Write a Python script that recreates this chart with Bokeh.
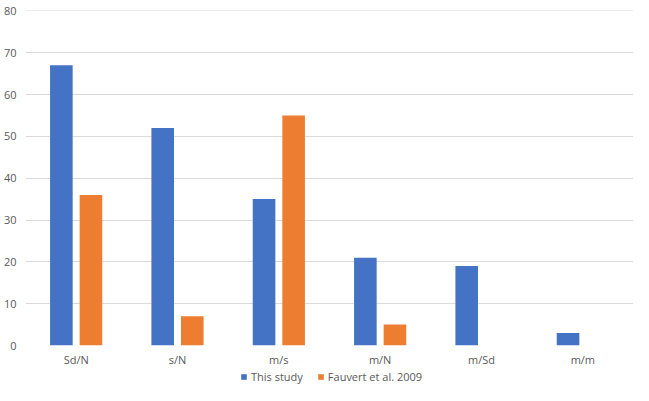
from bokeh.plotting import figure
from bokeh.models import FactorRange, Range1d, SingleIntervalTicker, Legend, LegendItem
from bokeh.layouts import column
from bokeh.transform import dodge
from bokeh.embed import file_html
from bokeh.resources import INLINE

categories = ["Sd/N", "s/N", "m/s", "m/N", "m/Sd", "m/m"]
this_study = [67, 52, 35, 21, 19, 3]
fauvert = [36, 7, 55, 5, 0, 0]
series_names = ["This study", "Fauvert et al. 2009"]
colors = ["#4472C4", "#ED7D31"]

FONT = "Open Sans"
TXT = "#595959"

p = figure(width=633, height=369, output_backend="svg", toolbar_location=None,
           x_range=FactorRange(*categories, range_padding=0),
           y_range=Range1d(0, 80.1))
p.min_border_top = 10
p.min_border_left = 10
p.min_border_right = 0
p.min_border_bottom = 21
p.outline_line_color = None

src = dict(cat=categories, a=this_study, b=fauvert)
p.vbar(x=dodge("cat", -0.146, range=p.x_range), top="a", width=0.223, source=src,
       fill_color=colors[0], line_color=None)
p.vbar(x=dodge("cat", 0.146, range=p.x_range), top="b", width=0.223, source=src,
       fill_color=colors[1], line_color=None)

p.yaxis.ticker = SingleIntervalTicker(interval=10)
for ax in (p.xaxis[0], p.yaxis[0]):
    ax.axis_line_color = None
    ax.major_tick_line_color = None
    ax.minor_tick_line_color = None
    ax.major_tick_out = 0
    ax.major_tick_in = 0
    ax.minor_tick_out = 0
    ax.major_label_text_color = TXT
    ax.major_label_text_font = FONT
    ax.major_label_text_font_size = "11px"
p.yaxis.major_label_standoff = 9
p.xaxis.major_label_standoff = 6
p.xgrid.grid_line_color = None
p.ygrid.grid_line_color = "#d9d9d9"
p.ygrid.grid_line_width = 1

# legend strip below the chart
lg = figure(width=633, height=16, output_backend="svg", toolbar_location=None,
            x_range=FactorRange(*categories), y_range=Range1d(0, 1))
lg.min_border = 0
lg.outline_line_color = None
lg.axis.visible = False
lg.grid.grid_line_color = None
rr = [lg.vbar(x="cat", top="top", width=0.5, source=dict(cat=[categories[0]], top=[0]),
              fill_color=c, line_color=None)
      for c in colors]
legend = Legend(items=[LegendItem(label=n, renderers=[r]) for n, r in zip(series_names, rr)],
                orientation="horizontal", location=(215, 1))
legend.label_text_font = FONT
legend.label_text_font_size = "11px"
legend.label_text_color = TXT
legend.glyph_width = 7
legend.glyph_height = 7
legend.label_standoff = 4
legend.spacing = 14
legend.padding = 0
legend.margin = 0
legend.border_line_color = None
legend.background_fill_alpha = 0
lg.add_layout(legend, "center")

layout = column(p, lg, spacing=0)
open("out.html", "w").write(file_html(layout, INLINE))
